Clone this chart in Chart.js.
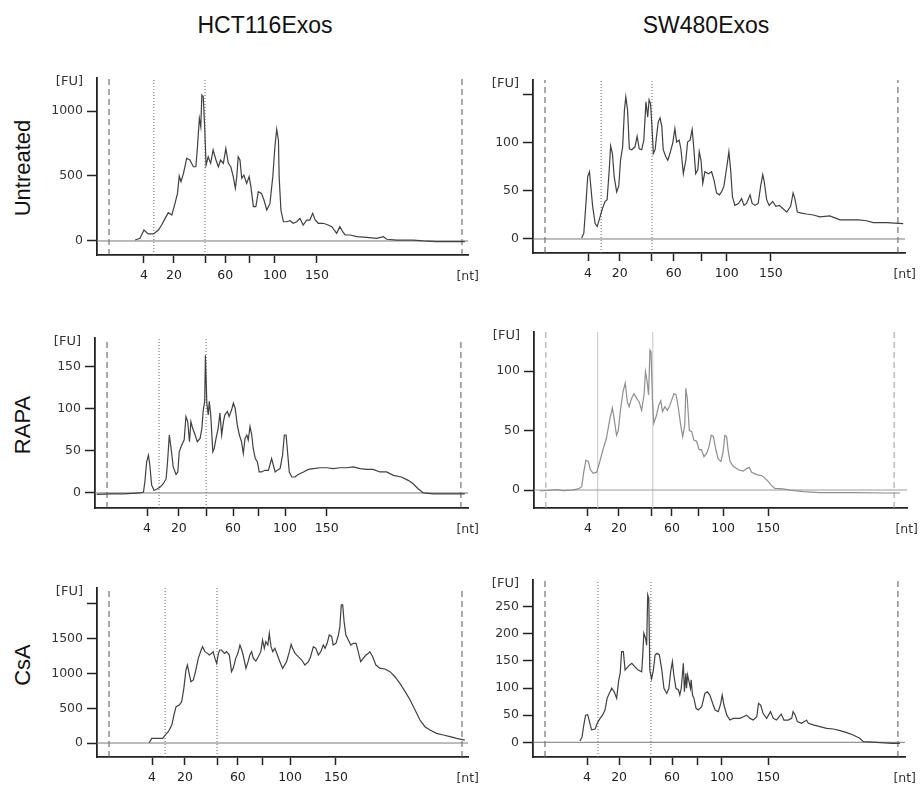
<!DOCTYPE html>
<html>
<head>
<meta charset="utf-8">
<script src="https://cdn.jsdelivr.net/npm/chart.js@4.4.1/dist/chart.umd.min.js"></script>
<style>
  body { margin: 0; background: #fff; width: 920px; height: 791px; position: relative; overflow: hidden; font-family: "Liberation Sans", Arial, sans-serif; color: #111; }
  .title { position: absolute; font-size: 23px; transform: translate(-50%, -50%); white-space: nowrap; }
  .row { position: absolute; font-size: 22px; transform: translate(-50%, -50%) rotate(-90deg); white-space: nowrap; }
  canvas { position: absolute; }
</style>
</head>
<body>
<div class="title" style="left:265px;top:25px">HCT116Exos</div>
<div class="title" style="left:706px;top:25px">SW480Exos</div>
<div class="row" style="left:23px;top:168px">Untreated</div>
<div class="row" style="left:23px;top:425px">RAPA</div>
<div class="row" style="left:23px;top:665px">CsA</div>
<script>
// ladder labels (nt), same for every panel
const sizeLabels = ['4', '20', '', '60', '', '100', '150'];

// HCT116 Exos - Untreated
const hctUntX = [7.4, 8.8, 9.9, 11.1, 12.6, 14.0, 14.9, 15.9, 16.8, 17.8, 18.7, 19.4, 19.9, 20.4, 21.1, 22.0, 22.9, 23.9, 24.6, 25.0,
  25.6, 26.0, 26.3, 26.7, 27.1, 27.5, 28.1, 28.8, 29.5, 30.3, 31.0, 31.6, 32.4, 33.1, 33.8, 34.5, 35.2, 35.8, 36.2, 36.6,
  37.1, 37.6, 38.2, 39.0, 39.7, 40.2, 40.9, 41.6, 42.3, 43.2, 43.9, 44.7, 45.6, 46.4, 47.0, 47.5, 48.0, 48.2, 48.7, 49.4,
  50.3, 51.3, 52.2, 53.2, 54.1, 55.0, 56.0, 56.9, 57.7, 58.4, 59.3, 60.7, 62.1, 63.1, 64.5, 65.4, 66.2, 66.9, 68.3, 70.2,
  73.0, 75.8, 77.7, 78.7, 81.5, 86.2, 89.0, 92.8, 100.8];
const hctUntY = [7, 20, 84, 54, 54, 84, 123, 174, 218, 200, 289, 366, 500, 456, 520, 636, 623, 571, 571, 700,
  943, 879, 1123, 1110, 879, 584, 648, 597, 700, 623, 571, 623, 597, 712, 597, 571, 495, 405, 495, 648,
  623, 482, 507, 443, 495, 418, 264, 264, 379, 366, 315, 238, 289, 495, 725, 859, 777, 495, 238, 148,
  148, 156, 136, 148, 174, 123, 161, 161, 213, 161, 136, 136, 123, 110, 59, 110, 71, 46, 46, 33,
  28, 20, 33, 13, 7, 7, 0, -5, -5];
const hctUntLadder = [9.9, 18.4, 27.2, 32.9, 39.9, 47.0, 58.9];
const hctUntDots = [12.7, 27.2];

// SW480 Exos - Untreated
const swUntX = [10.4, 11.0, 11.6, 12.1, 12.6, 12.9, 13.5, 14.2, 14.8, 15.6, 16.3, 17.0, 17.6, 18.2, 18.6, 19.1, 19.6, 20.3, 20.9, 21.4,
  22.0, 22.5, 22.9, 23.4, 23.9, 24.6, 25.5, 26.1, 26.7, 27.4, 28.0, 28.6, 29.1, 29.5, 29.9, 30.3, 30.7, 31.2, 31.6, 32.1,
  32.6, 33.1, 33.5, 34.2, 34.8, 35.4, 36.2, 36.8, 37.3, 38.0, 38.5, 39.2, 39.9, 40.4, 41.1, 41.7, 42.2, 42.7, 43.3, 43.7,
  44.2, 44.7, 45.3, 46.3, 47.2, 47.9, 48.6, 49.4, 50.0, 50.7, 51.5, 52.1, 52.6, 53.1, 53.8, 54.8, 55.7, 56.4, 57.1, 58.1,
  58.7, 59.5, 60.4, 61.1, 61.7, 62.1, 62.8, 63.5, 64.5, 65.4, 66.4, 67.3, 68.5, 69.6, 70.3, 70.8, 71.5, 72.7, 74.1, 76.0,
  77.9, 80.7, 83.6, 86.4, 88.8, 91.1, 93.0, 96.8, 101.5];
const swUntY = [1, 6, 37, 65, 70, 58, 34, 16, 13, 23, 32, 39, 41, 72, 97, 89, 65, 49, 55, 82,
  96, 134, 148, 134, 94, 93, 96, 107, 94, 93, 103, 143, 127, 145, 141, 117, 89, 93, 107, 122,
  126, 117, 93, 86, 82, 89, 100, 115, 101, 103, 94, 68, 82, 101, 103, 114, 93, 68, 72, 91,
  82, 58, 70, 68, 70, 61, 48, 46, 49, 55, 75, 91, 72, 44, 35, 37, 42, 35, 37, 46,
  37, 35, 37, 55, 67, 60, 41, 35, 39, 34, 35, 32, 28, 34, 48, 42, 28, 27, 26, 25,
  23, 24, 20, 20, 20, 19, 17, 17, 16];
const swUntLadder = [12.2, 21.2, 30.3, 36.5, 44.2, 51.5, 64.0];
const swUntDots = [15.9, 30.3];

// HCT116 Exos - RAPA
const hctRapaX = [-2.9, 0.8, 4.6, 9.3, 10.3, 10.7, 11.2, 11.7, 12.1, 12.6, 13.3, 14.0, 15.0, 15.9, 16.7, 17.1, 17.6, 18.1, 18.7, 19.5,
  20.0, 20.4, 21.1, 21.8, 22.3, 22.8, 23.3, 23.7, 24.2, 24.9, 25.5, 26.3, 26.8, 27.2, 27.6, 27.8, 28.2, 28.6, 28.9, 29.3,
  29.9, 30.3, 30.8, 31.4, 31.9, 32.4, 32.9, 33.3, 34.0, 34.5, 35.2, 35.7, 36.2, 36.8, 37.4, 38.0, 38.5, 39.0, 39.5, 39.9,
  40.4, 40.9, 41.3, 41.9, 42.5, 43.0, 43.7, 44.6, 45.6, 46.5, 47.0, 47.5, 48.1, 48.9, 49.6, 50.1, 50.6, 51.0, 51.5, 52.2,
  53.1, 54.0, 55.5, 56.9, 58.3, 60.2, 62.1, 63.9, 65.8, 67.7, 69.6, 71.5, 73.4, 75.2, 77.1, 79.0, 80.9, 83.2, 85.1, 86.5,
  87.9, 89.4, 92.2, 101.1];
const hctRapaY = [-1.6, -1.2, -1, 0, 1, 13.5, 37, 45, 33, 9.5, 3, 4.5, 7, 11, 17, 37, 69, 53, 31, 22,
  25, 49, 57, 63, 91, 85, 61, 85, 77, 69, 61, 65, 77, 99, 109, 164, 107, 93, 109, 93,
  49, 53, 65, 77, 95, 69, 85, 93, 97, 91, 99, 107, 101, 81, 69, 61, 47, 65, 69, 63,
  79, 69, 53, 41, 37, 25, 25, 27, 27, 41, 33, 25, 27, 29, 45, 69, 69, 49, 25, 19,
  19, 22, 25, 28, 29, 30, 30, 29, 30, 30, 31, 29, 28, 28, 25, 25, 21, 19, 15, 11,
  5, 0, -1, -1];
const hctRapaLadder = [11.3, 20.3, 28.0, 35.6, 42.7, 50.3, 62.1];
const hctRapaDots = [14.7, 28.0];

// SW480 Exos - RAPA
const swRapaX = [-1.7, 1.1, 3.1, 5.0, 7.4, 9.3, 10.3, 10.9, 11.5, 12.2, 12.8, 13.6, 14.6, 15.5, 16.5, 17.4, 18.4, 19.1, 19.6, 20.3,
  20.8, 21.5, 22.2, 22.8, 23.4, 23.9, 24.6, 25.3, 26.1, 26.8, 27.5, 28.2, 28.6, 29.1, 29.5, 29.9, 30.2, 30.6, 31.0, 31.8,
  32.4, 33.0, 33.5, 34.2, 34.9, 35.6, 36.3, 36.8, 37.4, 38.0, 38.7, 39.3, 39.9, 40.2, 40.6, 41.2, 41.9, 42.5, 43.3, 44.0,
  44.7, 45.4, 46.2, 46.8, 47.5, 48.1, 48.8, 49.5, 50.3, 50.9, 51.4, 51.9, 52.4, 52.9, 53.8, 55.3, 56.7, 57.7, 58.4, 59.1,
  60.5, 62.0, 62.9, 63.9, 64.8, 65.8, 68.2, 70.1, 73.9, 78.7, 88.3, 97.9, 101.7];
const swRapaY = [-0.8, -0.2, 0.3, -0.5, 0, 0.9, 2.8, 15.5, 25, 24, 17, 14, 15, 24, 35, 43.5, 60, 69, 60, 46,
  50, 69, 83, 90, 74, 70, 77, 81, 77, 74, 67, 80, 99.5, 91, 80, 117.7, 116, 77, 56, 63,
  71, 75, 66, 70, 67, 71, 77, 81, 80, 70, 55, 45, 55, 85.5, 77, 50, 49, 42, 41, 34,
  34, 28, 31, 36, 46, 45, 34, 26, 24, 32, 46, 45, 32, 24, 20, 17, 16, 18, 19, 15,
  13, 12, 10, 7, 3.7, 1.4, 0.9, 0, -1.4, -2.2, -2.2, -2.5, -2.5];
const swRapaLadder = [12.1, 21.0, 30.2, 36.2, 43.7, 50.9, 63.8];
const swRapaDots = [14.9, 30.7];

// HCT116 Exos - CsA
const hctCsaX = [11.4, 12.1, 15.2, 15.9, 16.8, 17.8, 18.4, 19.0, 19.9, 20.6, 21.2, 21.8, 22.2, 22.7, 23.2, 23.9, 24.6, 25.3, 26.1, 26.5,
  27.2, 27.9, 28.4, 29.1, 29.5, 30.0, 30.5, 31.0, 31.4, 31.9, 32.7, 33.3, 34.1, 34.7, 35.2, 35.9, 36.5, 37.1, 37.6, 38.0,
  38.8, 39.4, 39.9, 40.4, 40.9, 41.6, 42.3, 43.0, 43.5, 44.0, 44.4, 45.0, 45.4, 45.9, 46.4, 47.0, 47.7, 48.4, 49.2, 50.3,
  51.1, 51.6, 52.0, 52.7, 53.6, 54.6, 55.5, 56.5, 57.1, 57.9, 58.6, 59.3, 60.0, 60.7, 61.2, 61.8, 62.4, 63.1, 63.5, 64.3,
  65.0, 65.4, 65.8, 66.2, 66.6, 67.1, 67.8, 68.5, 69.2, 70.0, 70.6, 71.3, 72.0, 72.8, 73.5, 73.9, 74.7, 75.6, 76.8, 78.2,
  79.6, 81.0, 82.4, 83.9, 85.3, 86.7, 88.1, 89.5, 90.9, 92.8, 94.7, 96.6, 98.5, 100.8];
const hctCsaY = [5, 67, 67, 115, 163, 259, 403, 523, 547, 595, 787, 1050, 1122, 1002, 883, 907, 1050, 1218, 1338, 1386,
  1314, 1290, 1266, 1290, 1314, 1218, 1146, 1290, 1338, 1338, 1290, 1314, 1266, 1026, 1074, 1218, 1290, 1410, 1338, 1266,
  1074, 1170, 1266, 1314, 1218, 1180, 1242, 1314, 1482, 1362, 1458, 1410, 1578, 1386, 1314, 1362, 1266, 1170, 1074, 1170,
  1314, 1420, 1362, 1290, 1242, 1194, 1122, 1170, 1242, 1386, 1362, 1266, 1314, 1410, 1362, 1434, 1554, 1530, 1410, 1434,
  1554, 1674, 1986, 1986, 1746, 1554, 1482, 1410, 1434, 1434, 1314, 1170, 1218, 1266, 1290, 1314, 1242, 1122, 1074, 1065,
  1026, 954, 858, 739, 619, 475, 331, 235, 187, 139, 115, 91, 67, 43];
const hctCsaLadder = [12.2, 21.5, 30.6, 36.5, 43.6, 51.3, 64.3];
const hctCsaDots = [15.9, 30.6];

// SW480 Exos - CsA
const swCsaX = [9.9, 10.5, 11.0, 11.5, 12.1, 12.6, 13.2, 14.2, 14.8, 15.6, 16.3, 17.0, 17.6, 18.2, 18.9, 19.6, 20.3, 20.9, 21.3, 21.7,
  22.2, 22.7, 23.1, 23.9, 24.6, 25.5, 26.4, 27.4, 27.7, 28.0, 28.5, 28.8, 29.1, 29.4, 29.7, 30.2, 30.7, 31.2, 31.8, 32.4,
  33.1, 33.7, 34.5, 35.1, 35.6, 36.1, 36.5, 37.1, 37.8, 38.2, 38.6, 39.2, 39.5, 39.9, 40.1, 40.4, 40.8, 41.2, 41.4, 41.8,
  42.2, 42.8, 43.4, 44.4, 45.3, 46.0, 46.7, 47.5, 48.2, 49.1, 49.8, 50.2, 50.7, 51.5, 52.4, 53.3, 54.3, 55.2, 56.2, 57.1,
  58.1, 59.0, 60.0, 60.5, 61.1, 61.8, 62.8, 63.9, 64.7, 65.6, 66.9, 67.7, 68.9, 69.9, 70.3, 70.9, 71.5, 72.7, 73.7, 74.1,
  74.6, 76.0, 77.9, 79.8, 81.7, 83.6, 85.5, 87.3, 89.2, 90.2, 94.0, 98.2, 100.6];
const swCsaY = [2.4, 10.3, 32, 50, 51, 38, 23, 24.5, 35, 44, 50, 59.5, 81, 90, 99.5, 93, 81, 115, 127, 167,
  167, 133, 136, 142, 145.6, 139, 133, 130, 161, 201, 191.6, 179, 271.5, 265, 133, 116.7, 133, 161, 164, 161,
  133, 99.5, 90, 99.5, 130, 148.6, 124, 99.5, 96.4, 87, 99.5, 145.6, 93, 127, 99.5, 124, 111.8, 99.5, 115, 87,
  81, 62.6, 59.5, 65.7, 90, 93, 87, 71.8, 59.5, 56.4, 71.8, 87, 68.7, 50, 41, 44, 44, 44, 47, 50,
  44, 41, 47, 71.8, 68.7, 53, 44, 56.4, 44, 41, 52, 41, 41, 44, 56.4, 50, 38, 35, 39, 41,
  35, 32, 28.8, 25.7, 24.5, 21.4, 17.7, 13.4, 7.3, 1.1, 0, -2, -2];
const swCsaLadder = [11.9, 21.0, 30.0, 36.0, 43.1, 50.1, 63.2];
const swCsaDots = [15.0, 30.0];

// where each panel sits on the page
const panels = [
  { x: hctUntX, y: hctUntY, ladder: hctUntLadder, dots: hctUntDots, yTicks: [0, 500, 1000], yLabels: ['0', '500', '1000'],
    yMin: -108, yMax: 1254, xMin: -3.4, xMax: 101.7, box: [30, 55, 460, 240], yW: 67, xH: 40, padTop: 23, padRight: 22 },
  { x: swUntX, y: swUntY, ladder: swUntLadder, dots: swUntDots, yTicks: [0, 50, 100, 150], yLabels: ['0', '50', '100', ''],
    yMin: -14.6, yMax: 165.6, xMin: -3.4, xMax: 102.0, box: [490, 55, 430, 240], yW: 43, xH: 42, padTop: 25, padRight: 15 },
  { x: hctRapaX, y: hctRapaY, ladder: hctRapaLadder, dots: hctRapaDots, yTicks: [0, 50, 100, 150], yLabels: ['0', '50', '100', '150'],
    yMin: -17.9, yMax: 184.5, xMin: -3.4, xMax: 102.0, box: [30, 310, 460, 235], yW: 65, xH: 37, padTop: 28, padRight: 22 },
  { x: swRapaX, y: swRapaY, ladder: swRapaLadder, dots: swRapaDots, yTicks: [0, 50, 100], yLabels: ['0', '50', '100'],
    yMin: -15.1, yMax: 132.8, xMin: -3.4, xMax: 103.7, box: [490, 310, 430, 235], yW: 44, xH: 37, padTop: 22, padRight: 13, light: true },
  { x: hctCsaX, y: hctCsaY, ladder: hctCsaLadder, dots: hctCsaDots, yTicks: [0, 500, 1000, 1500, 2000], yLabels: ['0', '500', '1000', '1500', ''],
    yMin: -201, yMax: 2230, xMin: -3.4, xMax: 101.7, box: [30, 560, 460, 231], yW: 67, xH: 34, padTop: 28, padRight: 22 },
  { x: swCsaX, y: swCsaY, ladder: swCsaLadder, dots: swCsaDots, yTicks: [0, 50, 100, 150, 200, 250], yLabels: ['0', '50', '100', '150', '200', '250'],
    yMin: -27.1, yMax: 299, xMin: -3.4, xMax: 102.0, box: [490, 560, 430, 231], yW: 43, xH: 34, padTop: 20, padRight: 15 }
];

// [FU] and [nt] unit labels
const unitText = {
  id: 'unitText',
  afterDraw(chart) {
    const { ctx, chartArea } = chart;
    ctx.save();
    ctx.fillStyle = '#333';
    ctx.textAlign = 'right';
    ctx.textBaseline = 'middle';
    ctx.font = '13px "DejaVu Sans"';
    ctx.fillText('[FU]', chartArea.left - 14, chartArea.top + 4);
    ctx.font = '12.5px "DejaVu Sans"';
    ctx.fillText('[nt]', chartArea.right + 11, chartArea.bottom + 22);
    ctx.restore();
  }
};

function drawPanel(p) {
  const canvas = document.createElement('canvas');
  canvas.width = p.box[2];
  canvas.height = p.box[3];
  canvas.style.left = p.box[0] + 'px';
  canvas.style.top = p.box[1] + 'px';
  document.body.appendChild(canvas);

  const traceColor = p.light ? '#8e8e8e' : '#404040';
  const datasets = [
    { data: p.x.map((v, i) => ({ x: v, y: p.y[i] })), borderColor: traceColor, borderWidth: 1.2 },
    { data: [{ x: p.xMin, y: 0 }, { x: p.xMax, y: 0 }], borderColor: p.light ? '#9a9a9a' : '#7a7a7a', borderWidth: 1 }
  ];
  // outer markers (lower / upper) as dashed lines
  [0, 100].forEach(m => datasets.push({
    data: [{ x: m, y: p.yMin }, { x: m, y: p.yMax }],
    borderColor: p.light ? '#9a9a9a' : '#555', borderWidth: 1, borderDash: [6, 4]
  }));
  // region lines
  p.dots.forEach(m => datasets.push({
    data: [{ x: m, y: p.yMin }, { x: m, y: p.yMax }],
    borderColor: p.light ? '#c4c4c4' : '#666', borderWidth: 1, borderDash: p.light ? [] : [1, 2]
  }));

  const tickFont = { family: 'DejaVu Sans', size: 12.5 };
  new Chart(canvas, {
    type: 'line',
    data: { datasets },
    plugins: [unitText],
    options: {
      responsive: false,
      devicePixelRatio: 1,
      animation: false,
      layout: { padding: { top: p.padTop, right: p.padRight, left: 0, bottom: 0 } },
      elements: { point: { radius: 0 }, line: { tension: 0, fill: false } },
      plugins: { legend: { display: false }, tooltip: { enabled: false } },
      scales: {
        x: {
          type: 'linear', min: p.xMin, max: p.xMax,
          afterBuildTicks: s => { s.ticks = p.ladder.map(v => ({ value: v })); },
          afterFit: s => { s.height = p.xH; },
          ticks: { autoSkip: false, maxRotation: 0, padding: 5, color: '#222', font: tickFont,
            callback: (v, i) => sizeLabels[i] },
          grid: { drawOnChartArea: false, drawTicks: true, tickLength: 8, tickColor: '#222', tickWidth: 1.5 },
          border: { display: true, color: '#222', width: 1.8 }
        },
        y: {
          min: p.yMin, max: p.yMax,
          afterBuildTicks: s => { s.ticks = p.yTicks.map(v => ({ value: v })); },
          afterFit: s => { s.width = p.yW; },
          ticks: { padding: 4, color: '#333', font: tickFont,
            callback: (v, i) => p.yLabels[i] },
          grid: { drawOnChartArea: false, drawTicks: true, tickLength: 10, tickColor: '#222', tickWidth: 1.5 },
          border: { display: true, color: '#222', width: 1.8 }
        }
      }
    }
  });
}

panels.forEach(drawPanel);
</script>
</body>
</html>
